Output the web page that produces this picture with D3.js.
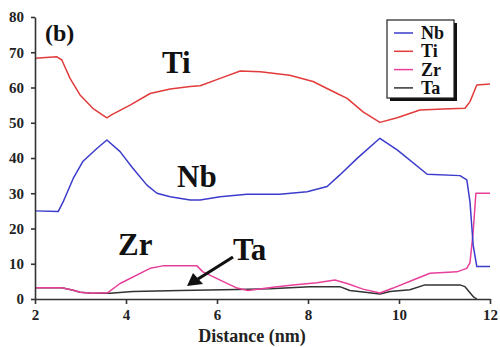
<!DOCTYPE html>
<html>
<head>
<meta charset="utf-8">
<script src="https://cdn.jsdelivr.net/npm/d3@7"></script>
<style>
  body { margin: 0; background: #fff; }
  svg { display: block; }
  svg text { font-family: "Liberation Serif", serif; font-weight: bold; }
</style>
</head>
<body>
<figure id="profile" style="margin:0"></figure>
<script>
// values: [distance (nm), value]
const nbData = [[2.0,25],[2.51,24.8],[2.62,27.6],[2.84,34.2],[3.05,39],[3.36,42.7],[3.58,45.1],[3.87,41.8],[4.15,37.1],[4.46,32.3],[4.68,30],[4.97,29],[5.41,28.1],[5.63,28.1],[6.07,29],[6.66,29.7],[7.38,29.7],[7.98,30.4],[8.42,31.9],[8.70,35.2],[9.08,39.9],[9.58,45.6],[9.96,42.3],[10.62,35.4],[11.34,35],[11.49,33.8],[11.56,27.6],[11.63,15.3],[11.71,9.2],[12.0,9.2]];
const tiData = [[2.0,68.3],[2.48,68.7],[2.59,67.8],[2.77,62.6],[2.99,57.9],[3.27,54.1],[3.58,51.4],[3.69,52.3],[4.09,55],[4.53,58.3],[4.97,59.6],[5.41,60.3],[5.63,60.5],[6.07,62.6],[6.51,64.7],[6.95,64.5],[7.60,63.5],[8.11,61.7],[8.64,58.3],[8.86,56.9],[9.21,53.1],[9.58,50.1],[9.96,51.4],[10.46,53.6],[10.97,53.9],[11.45,54.1],[11.56,56],[11.71,60.7],[12.0,61]];
const zrData = [[2.0,3.2],[2.59,3.2],[2.84,2.5],[3.0,1.9],[3.25,1.6],[3.6,1.8],[3.87,4.4],[4.53,8.7],[4.81,9.4],[5.56,9.4],[5.69,7.7],[6.44,3.1],[6.68,2.4],[7.23,3.3],[7.67,4.0],[8.2,4.6],[8.59,5.4],[8.86,4.4],[9.21,2.8],[9.58,1.7],[9.87,3.1],[10.31,5.4],[10.68,7.3],[11.27,7.7],[11.49,8.7],[11.56,10.3],[11.63,19],[11.69,30],[12.0,30]];
const taData = [[2.0,3.2],[2.59,3.2],[2.84,2.5],[2.99,1.9],[3.25,1.6],[3.65,1.6],[4.15,2.1],[5.19,2.4],[6.44,2.7],[7.16,2.9],[8.04,3.5],[8.70,3.5],[8.92,2.4],[9.21,2.0],[9.58,1.4],[9.80,2.1],[10.24,2.6],[10.57,4.0],[11.34,4.0],[11.45,3.5],[11.63,0.7],[11.71,0]];

const seriesNames = ["Nb", "Ti", "Zr", "Ta"];
const xTicks = [2, 4, 6, 8, 10, 12];
const yTicks = [0, 10, 20, 30, 40, 50, 60, 70, 80];

const colors = { Nb: "#3b3bcc", Ti: "#e23b3b", Zr: "#e8409a", Ta: "#333333" };
const seriesData = { Nb: nbData, Ti: tiData, Zr: zrData, Ta: taData };

const svg = d3.select("figure#profile")
  .append("svg")
  .attr("width", 500)
  .attr("height", 347);

const x = d3.scaleLinear().domain([2, 12]).range([35, 490]);
const y = d3.scaleLinear().domain([0, 80]).range([299, 17]);

// lines
const line = d3.line().x(d => x(d[0])).y(d => y(d[1]));
["Ta", "Zr", "Nb", "Ti"].forEach(name => {
  svg.append("path")
    .datum(seriesData[name])
    .attr("fill", "none")
    .attr("stroke", colors[name])
    .attr("stroke-width", 1.5)
    .attr("stroke-linejoin", "round")
    .attr("d", line);
});

// labels in the plot
const plotLabels = [
  { t: "(b)", x: 45, y: 41, s: 24 },
  { t: "Ti", x: 162, y: 73, s: 31 },
  { t: "Nb", x: 177, y: 187, s: 31 },
  { t: "Zr", x: 118, y: 255, s: 31 },
  { t: "Ta", x: 233, y: 260, s: 31 }
];
plotLabels.forEach(d => {
  svg.append("text")
    .attr("x", d.x)
    .attr("y", d.y)
    .style("font-size", d.s + "px")
    .attr("fill", "#111")
    .text(d.t);
});

// arrow to Ta
svg.append("line")
  .attr("x1", 233).attr("y1", 257)
  .attr("x2", 198).attr("y2", 279)
  .attr("stroke", "#111")
  .attr("stroke-width", 3.2);
svg.append("path")
  .attr("d", "M187,286L193,273L203,284Z")
  .attr("fill", "#111");

// legend
const lg = svg.append("g").attr("transform", "translate(387,20)");
lg.append("rect")
  .attr("x", 3).attr("y", 3).attr("width", 67).attr("height", 78)
  .attr("fill", "#111");
lg.append("rect")
  .attr("width", 67).attr("height", 78)
  .attr("fill", "#fff").attr("stroke", "#222").attr("stroke-width", 1.2);
seriesNames.forEach((name, i) => {
  const row = lg.append("g").attr("transform", "translate(0," + (13 + i * 18.3) + ")");
  row.append("line")
    .attr("x1", 7).attr("x2", 26)
    .attr("stroke", colors[name])
    .attr("stroke-width", 1.5);
  row.append("text")
    .attr("x", 34).attr("y", 6)
    .style("font-size", "18px")
    .attr("fill", "#111")
    .text(name);
});

// axis title
svg.append("text")
  .attr("x", 252).attr("y", 342)
  .attr("text-anchor", "middle")
  .style("font-size", "18px")
  .attr("fill", "#222")
  .text("Distance (nm)");

// Add X axis
const xAxis = svg.append("g")
  .attr("class", "x-axis")
  .attr("transform", "translate(0," + y(0) + ")")
  .call(d3.axisBottom(x).tickValues(xTicks).tickSize(5).tickPadding(5).tickSizeOuter(0).tickFormat(d3.format("d")));

// Add Y axis
const yAxis = svg.append("g")
  .attr("class", "y-axis")
  .attr("transform", "translate(" + x(2) + ",0)")
  .call(d3.axisLeft(y).tickValues(yTicks).tickSize(4).tickPadding(7).tickSizeOuter(0).tickFormat(d3.format("d")));

[xAxis, yAxis].forEach(g => {
  g.attr("font-family", null).attr("font-size", null);
  g.selectAll("text")
    .style("font-size", "15px")
    .attr("fill", "#222");
  g.selectAll("path, line").attr("stroke", "#333").attr("stroke-width", 1.6);
});
</script>
</body>
</html>
